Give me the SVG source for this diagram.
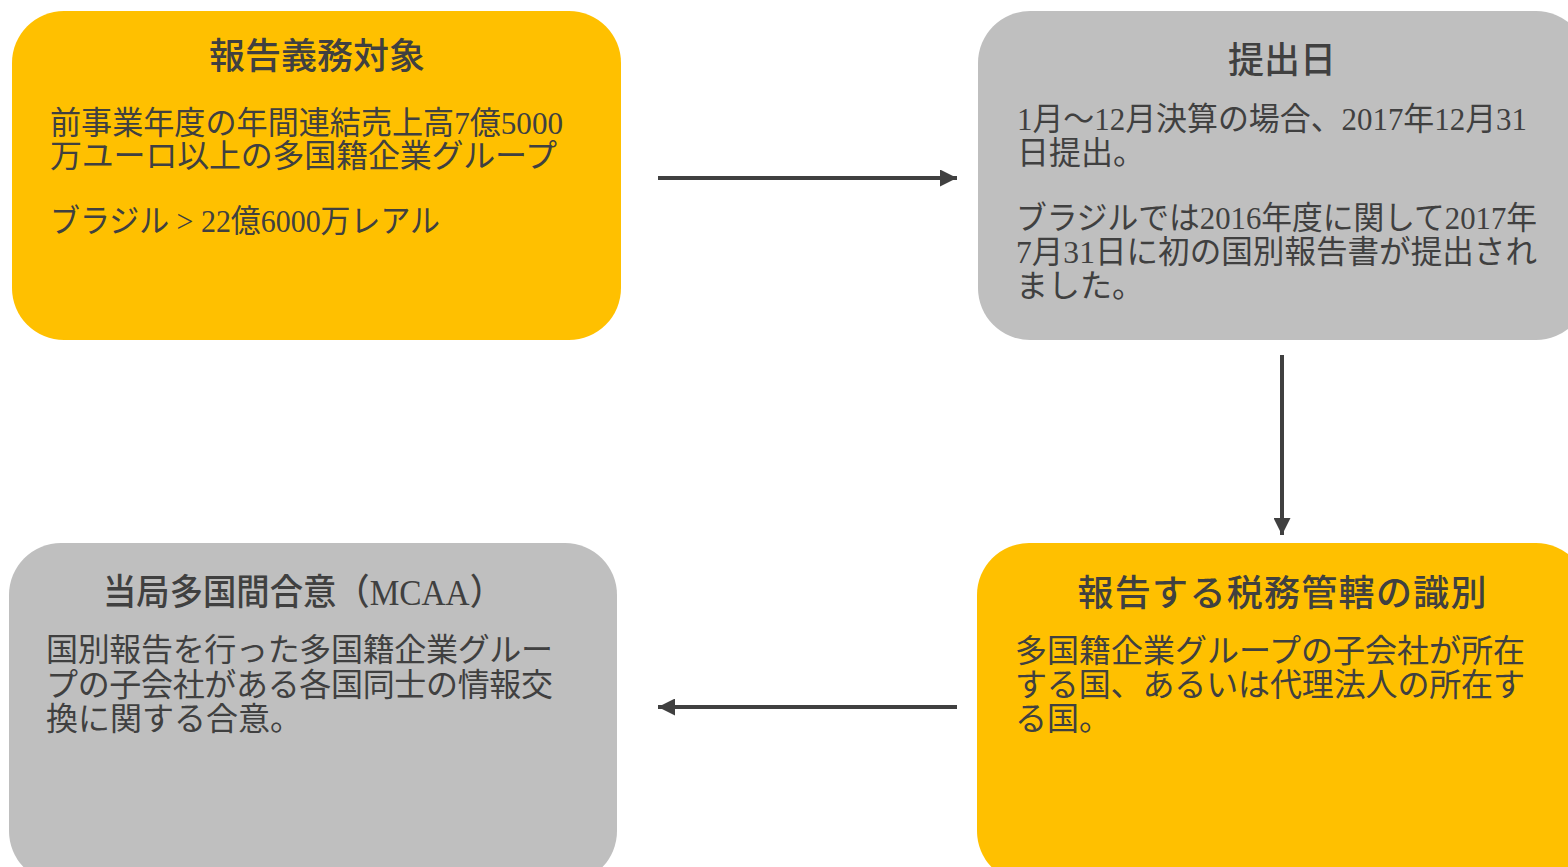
<svg xmlns="http://www.w3.org/2000/svg" width="1568" height="867" viewBox="0 0 1568 867">
<style>
.gold{fill:#FFC000}
.gray{fill:#BFBFBF}
text{font-family:"Liberation Serif","Noto Sans CJK JP",serif;fill:#404040}
.t{font-size:36px;text-anchor:middle;font-weight:500}
.b{font-size:32px}
.c{stroke:#404040;stroke-width:4;fill:none}
</style>
<defs>
<marker id="ah" viewBox="0 0 10 10" refX="10" refY="5" markerWidth="17" markerHeight="17" markerUnits="userSpaceOnUse" orient="auto">
<path d="M0,0 L10,5 L0,10 Z" fill="#404040"/>
</marker>
</defs>
<rect width="1568" height="867" fill="#FFFFFF"/>
<g id="node1">
<rect class="gold" x="12" y="11" width="609" height="329" rx="52"/>
<text class="t" x="317" y="69">報告義務対象</text>
<text class="b" x="50" y="134" textLength="513" lengthAdjust="spacingAndGlyphs">前事業年度の年間連結売上高7億5000</text>
<text class="b" x="50" y="167" textLength="507">万ユーロ以上の多国籍企業グループ</text>
<text class="b" x="50" y="232" textLength="390" lengthAdjust="spacingAndGlyphs">ブラジル &gt; 22億6000万レアル</text>
</g>
<g id="node2">
<rect class="gray" x="978" y="11" width="610" height="329" rx="52"/>
<text class="t" x="1282" y="73">提出日</text>
<text class="b" x="1017" y="130" textLength="510" lengthAdjust="spacingAndGlyphs">1月～12月決算の場合、2017年12月31</text>
<text class="b" x="1017" y="164">日提出。</text>
<text class="b" x="1016" y="229" textLength="521" lengthAdjust="spacingAndGlyphs">ブラジルでは2016年度に関して2017年</text>
<text class="b" x="1016" y="263" textLength="521" lengthAdjust="spacingAndGlyphs">7月31日に初の国別報告書が提出され</text>
<text class="b" x="1016" y="297">ました。</text>
</g>
<g id="node3">
<rect class="gray" x="9" y="543" width="608" height="340" rx="52"/>
<text class="t" x="303" y="605" textLength="400" lengthAdjust="spacingAndGlyphs">当局多国間合意（MCAA）</text>
<text class="b" x="46" y="661" textLength="507">国別報告を行った多国籍企業グルー</text>
<text class="b" x="46" y="696" textLength="507">プの子会社がある各国同士の情報交</text>
<text class="b" x="46" y="730">換に関する合意。</text>
</g>
<g id="node4">
<rect class="gold" x="977" y="543" width="611" height="340" rx="52"/>
<text class="t" x="1282" y="606" textLength="409">報告する税務管轄の識別</text>
<text class="b" x="1015" y="662" textLength="510">多国籍企業グループの子会社が所在</text>
<text class="b" x="1015" y="696" textLength="510">する国、あるいは代理法人の所在す</text>
<text class="b" x="1015" y="730">る国。</text>
</g>
<g id="connectors">
<line class="c" x1="658" y1="178" x2="957" y2="178" marker-end="url(#ah)"/>
<line class="c" x1="1282" y1="355" x2="1282" y2="535" marker-end="url(#ah)"/>
<line class="c" x1="957" y1="707" x2="658" y2="707" marker-end="url(#ah)"/>
</g>
</svg>
